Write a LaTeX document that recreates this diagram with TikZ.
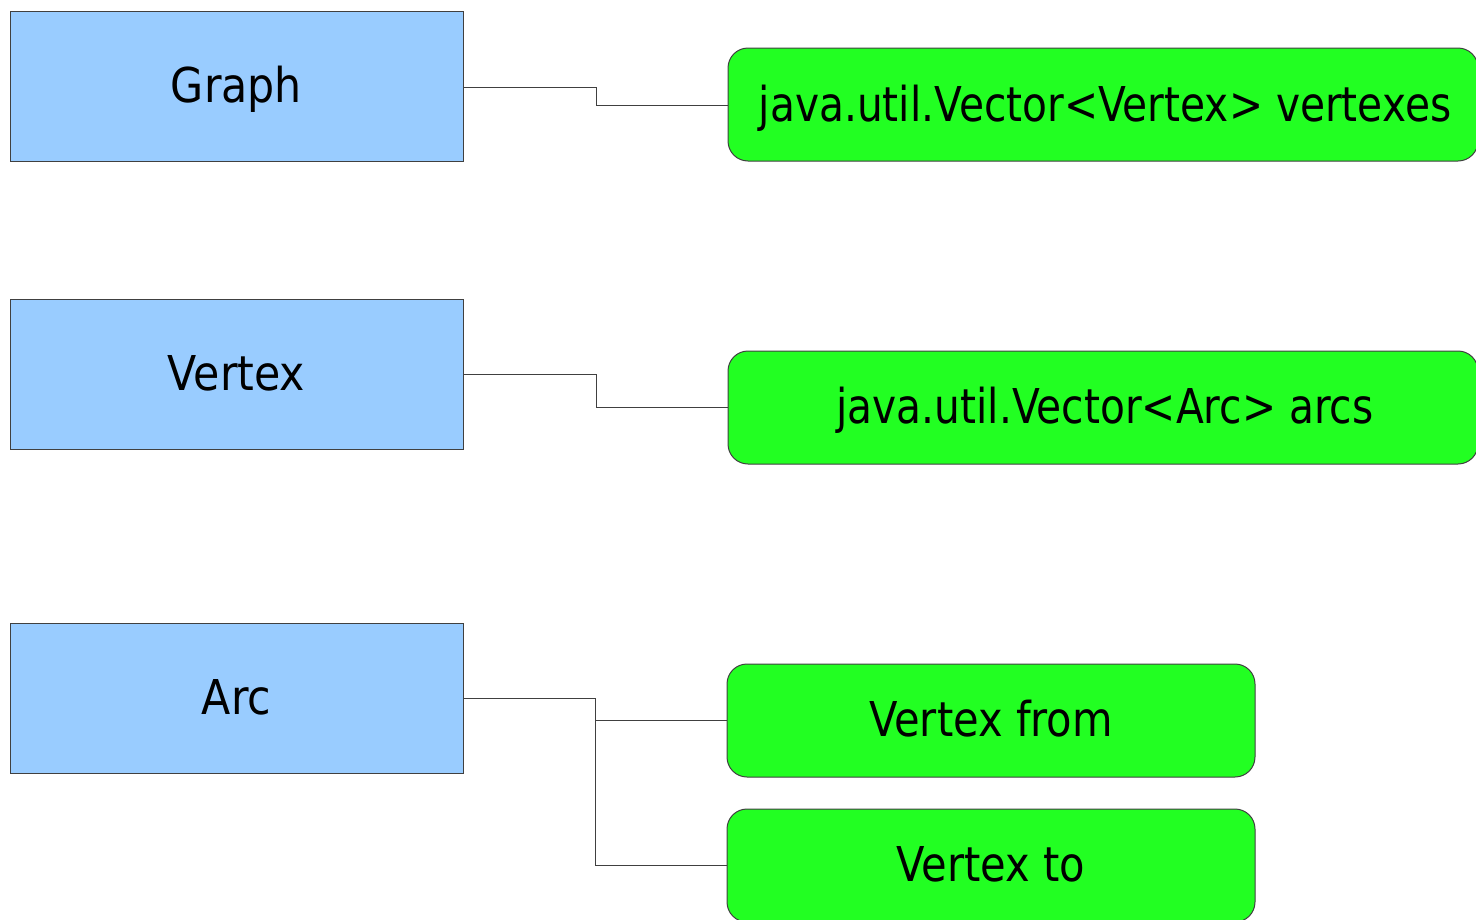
\documentclass[tikz,border=0pt]{standalone}
\usepackage{fontspec}
\setmainfont[FakeStretch=0.89]{DejaVu Sans}
\newfontfamily\fieldfont[FakeStretch=0.867]{DejaVu Sans}
\newfontfamily\javafont[FakeStretch=0.848]{DejaVu Sans}
\definecolor{classblue}{HTML}{99CCFF}
\definecolor{fieldgreen}{HTML}{22FF22}
\definecolor{linegray}{HTML}{404040}
\begin{document}
\begin{tikzpicture}[x=1pt,y=-1pt,
  classbox/.style={draw=linegray, line width=1pt, fill=classblue},
  fieldbox/.style={draw=linegray, line width=1pt, fill=fieldgreen, rounded corners=20pt},
  lbl/.style={font=\fontsize{48}{56}\selectfont, inner sep=0pt, anchor=base},
  flbl/.style={font=\fieldfont\fontsize{48}{56}\selectfont, inner sep=0pt, anchor=base},
  jlbl/.style={font=\javafont\fontsize{48}{56}\selectfont, inner sep=0pt, anchor=base},
  conn/.style={draw=linegray, line width=1pt}]
\useasboundingbox (0,0) rectangle (1476,919);
% class boxes
\draw[classbox] (10,11) rectangle (463,161);
\draw[classbox] (10,299) rectangle (463,449);
\draw[classbox] (10,623) rectangle (463,773);
\node[lbl] (graph) at (236.5,102) {Graph};
\node[lbl] (vertex) at (236.5,390) {Vertex};
\node[lbl] (arc) at (236.5,714) {Arc};
\coordinate (gR) at (463,87);
\coordinate (vR) at (463,374);
\coordinate (aR) at (463,698);
% field boxes
\draw[fieldbox] (728,48) rectangle (1478,161);
\draw[fieldbox] (728,351) rectangle (1478,464);
\draw[fieldbox] (727,664) rectangle (1255,777);
\draw[fieldbox] (727,809) rectangle (1255,922);
\node[jlbl] (f1) at (1105,121) {java.util.Vector<Vertex> vertexes};
\node[jlbl] (f2) at (1105,423) {java.util.Vector<Arc> arcs};
\node[flbl] (f3) at (991,736) {Vertex from};
\node[flbl] (f4) at (991,881) {Vertex to};
\coordinate (f1L) at (728,105);
\coordinate (f2L) at (728,407);
\coordinate (f3L) at (727,720);
\coordinate (f4L) at (727,865);
% connectors
\draw[conn] (gR) -- (596,87) -- (596,105) -- (f1L);
\draw[conn] (vR) -- (596,374) -- (596,407) -- (f2L);
\draw[conn] (aR) -- (595,698) -- (595,720) -- (f3L);
\draw[conn] (595,720) -- (595,865) -- (f4L);
\end{tikzpicture}
\end{document}
